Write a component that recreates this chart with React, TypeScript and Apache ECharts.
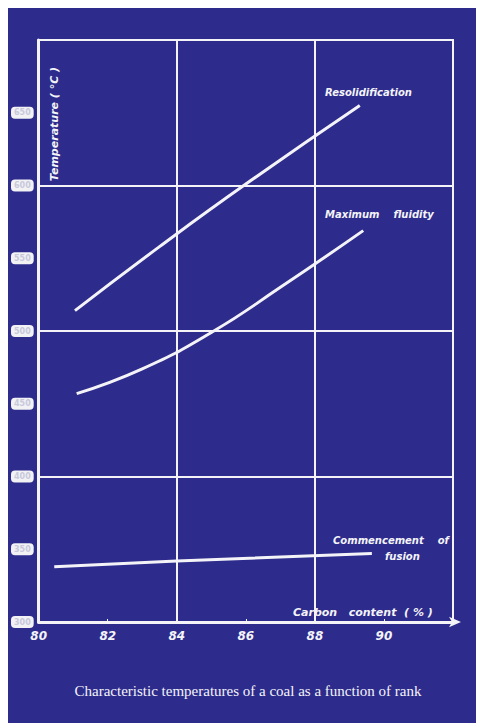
import React, { useEffect, useRef } from "react";
import * as echarts from "echarts";

const xTicks = [80, 82, 84, 86, 88, 90];
const yTicks = [300, 350, 400, 450, 500, 550, 600, 650];

const resolidification: [number, number][] = [
  [81.05, 514], [83.5, 558], [86.0, 601], [89.3, 655],
];
const maximumFluidity: [number, number][] = [
  [81.1, 457], [83.0, 474], [85.0, 499], [87.0, 530], [89.4, 569],
];
const commencementOfFusion: [number, number][] = [
  [80.45, 338], [84.0, 342], [89.65, 347],
];

const BG = "#2d2b8c";
const FG = "#f4f4f8";
const chartFont = "DejaVu Sans";

export default function App() {
  const ref = useRef<HTMLDivElement>(null);
  useEffect(() => {
    if (!ref.current) return;
    const chart = echarts.init(ref.current, undefined, { renderer: "svg" });
    const labelStyle = { color: FG, fontFamily: chartFont, fontStyle: "italic", fontWeight: "bold", fontSize: 10 };
    const lineSeries = (name: string, data: [number, number][]) => ({
      name,
      type: "line",
      data,
      smooth: 0.5,
      symbol: "none",
      lineStyle: { color: FG, width: 3 },
      xAxisIndex: 0,
      yAxisIndex: 0,
    });
    chart.setOption({
      animation: false,
      backgroundColor: BG,
      grid: {
        left: 30, right: 31, top: 32, bottom: 101,
        show: true, borderColor: FG, borderWidth: 2, containLabel: false,
      },
      xAxis: [
        {
          type: "value", min: 80, max: 92, interval: 2,
          axisLine: { show: true, lineStyle: { color: FG, width: 3 }, symbol: ["none", "arrow"], symbolSize: [8, 12], symbolOffset: [0, 8] },
          axisTick: { show: true, inside: true, length: 3, lineStyle: { color: FG } },
          splitLine: { show: false },
          axisLabel: {
            ...labelStyle, fontSize: 12, margin: 8,
            formatter: (v: number) => (xTicks.includes(v) ? String(v) : ""),
          },
        },
        {
          type: "value", min: 80, max: 92, interval: 4, position: "bottom",
          axisLine: { show: false }, axisTick: { show: false }, axisLabel: { show: false },
          splitLine: { show: true, lineStyle: { color: FG, width: 2 } },
        },
      ],
      yAxis: [
        {
          type: "value", min: 300, max: 700, interval: 50,
          axisLine: { show: true, lineStyle: { color: FG, width: 3 } },
          axisTick: { show: false },
          splitLine: { show: false },
          axisLabel: {
            color: "#c8c8dc", fontFamily: chartFont, fontSize: 8, fontWeight: "bold",
            backgroundColor: "#f2f2f4", borderRadius: 4, padding: [2, 3],
            margin: 5, showMaxLabel: false,
            formatter: (v: number) => (yTicks.includes(v) ? String(v) : ""),
          },
        },
        {
          type: "value", min: 300, max: 700, interval: 100, position: "left",
          axisLine: { show: false }, axisTick: { show: false }, axisLabel: { show: false },
          splitLine: { show: true, lineStyle: { color: FG, width: 2 } },
        },
      ],
      series: [
        lineSeries("Resolidification", resolidification),
        lineSeries("Maximum fluidity", maximumFluidity),
        lineSeries("Commencement of fusion", commencementOfFusion),
      ],
      graphic: [
        { type: "text", left: 317, top: 79, style: { text: "Resolidification", fill: FG, font: `italic bold 10px "${chartFont}"` } },
        { type: "text", left: 317, top: 201, style: { text: "Maximum    fluidity", fill: FG, font: `italic bold 10px "${chartFont}"` } },
        { type: "text", left: 325, top: 527, style: { text: "Commencement    of", fill: FG, font: `italic bold 10px "${chartFont}"` } },
        { type: "text", left: 377, top: 543, style: { text: "fusion", fill: FG, font: `italic bold 10px "${chartFont}"` } },
        { type: "text", left: 285, top: 599, style: { text: "Carbon   content  ( % )", fill: FG, font: `italic bold 11px "${chartFont}"` } },
        {
          type: "text", x: 46, y: 116, rotation: Math.PI / 2,
          style: { text: "Temperature ( °C )", fill: FG, font: `italic bold 11px "${chartFont}"`, align: "center", verticalAlign: "middle" },
        },
        {
          type: "text", x: 240, y: 683,
          style: { text: "Characteristic temperatures of a coal as a function of rank", fill: FG, font: `15px "Liberation Serif"`, align: "center", verticalAlign: "middle" },
        },
      ],
    });
    return () => chart.dispose();
  }, []);
  return <div ref={ref} style={{ width: 476, height: 715 }} />;
}
